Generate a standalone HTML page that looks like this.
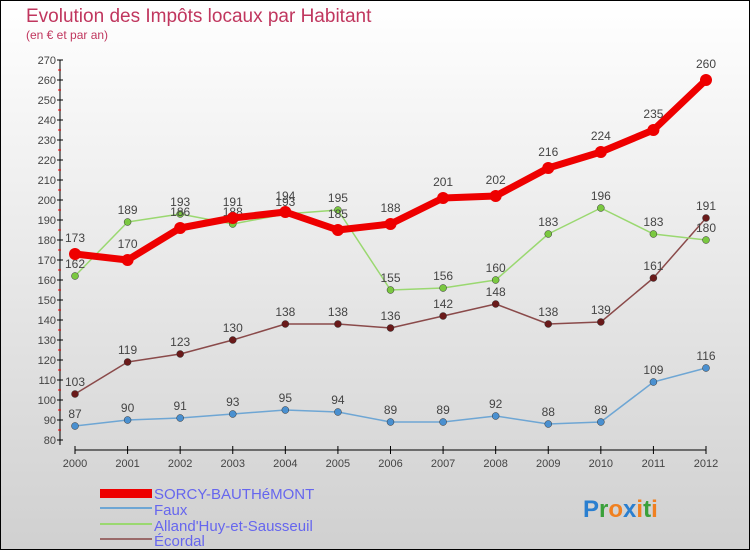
<!DOCTYPE html>
<html><head><meta charset="utf-8"><style>
body{margin:0}
#c{width:750px;height:550px;position:relative;overflow:hidden;font-family:"Liberation Sans",sans-serif}
</style></head><body>
<div id="c">
<svg id="s" width="750" height="550" xmlns="http://www.w3.org/2000/svg">
<defs><linearGradient id="bg" x1="0" y1="0" x2="0" y2="1"><stop offset="0" stop-color="#ffffff"/><stop offset="1" stop-color="#d0d0d0"/></linearGradient></defs>
<rect x="0.5" y="0.5" width="749" height="549" fill="url(#bg)" stroke="#000"/>
<text x="26" y="22" font-size="19" fill="#c0365e">Evolution des Impôts locaux par Habitant</text>
<text x="26" y="39" font-size="12" fill="#c0365e">(en € et par an)</text>
<g id="axes"></g><g id="series"></g>
<g font-size="15" fill="#6666ee">
<rect x="100" y="489" width="52" height="9" fill="#e00"/>
<text x="154" y="499">SORCY-BAUTHéMONT</text>
<rect x="100" y="507" width="52" height="2" fill="#6ea6d4"/>
<text x="154" y="515">Faux</text>
<rect x="100" y="523" width="52" height="2" fill="#9ad870"/>
<text x="154" y="531">Alland'Huy-et-Sausseuil</text>
<rect x="100" y="538" width="52" height="2" fill="#9a6a6a"/>
<text x="154" y="546">Écordal</text>
</g>
<g font-size="24" font-weight="bold">
<text x="583" y="517"><tspan fill="#2a7fd0">P</tspan><tspan fill="#3aa03a">r</tspan><tspan fill="#f08020">o</tspan><tspan fill="#2a7fd0">x</tspan><tspan fill="#f08020">i</tspan><tspan fill="#3aa03a">t</tspan><tspan fill="#f08020">i</tspan></text>
</g>
</svg>
</div>
<script>
const years=[2000,2001,2002,2003,2004,2005,2006,2007,2008,2009,2010,2011,2012];
const sorcy=[173,170,186,191,194,185,188,201,202,216,224,235,260];
const faux=[87,90,91,93,95,94,89,89,92,88,89,109,116];
const alland=[162,189,193,188,193,195,155,156,160,183,196,183,180];
const ecordal=[103,119,123,130,138,138,136,142,148,138,139,161,191];
const yTicks=[80,90,100,110,120,130,140,150,160,170,180,190,200,210,220,230,240,250,260,270];
const NS="http://www.w3.org/2000/svg";
function X(i){return 75+i*(706-75)/(years.length-1);}
function Y(v){return 440-(v-80)*2;}
function mk(p,t,a){const e=document.createElementNS(NS,t);for(const k in a)e.setAttribute(k,a[k]);p.appendChild(e);return e;}
const ax=document.getElementById('axes');
let l=mk(ax,'line',{x1:60,y1:Y(270),x2:60,y2:Y(80)+5,stroke:'#000'});


l=mk(ax,'line',{x1:75,y1:450,x2:706,y2:450,stroke:'#000'});


yTicks.forEach(v=>{
 mk(ax,'line',{x1:57,y1:Y(v),x2:63,y2:Y(v),stroke:'#000'});
 if(v<270)mk(ax,'line',{x1:58,y1:Y(v+5),x2:61,y2:Y(v+5),stroke:'#e00'});
 const t=mk(ax,'text',{x:56,y:Y(v)+4,'font-size':11,fill:'#444','text-anchor':'end'});t.textContent=v;
 
 
});
years.forEach((yr,i)=>{
 mk(ax,'line',{x1:X(i),y1:446,x2:X(i),y2:454,stroke:'#000'});
 const t=mk(ax,'text',{x:X(i),y:467,'font-size':11,fill:'#444','text-anchor':'middle'});t.textContent=yr;
 
 
});
const sg=document.getElementById('series');
function series(name,data,col,w,r,mcol,lblOff){
 const g=mk(sg,'g',{});
 
 
 mk(g,'polyline',{points:data.map((v,i)=>X(i)+','+Y(v)).join(' '),fill:'none',stroke:col,'stroke-width':w,'stroke-linejoin':'round'});
 data.forEach((v,i)=>{
  const c=mk(g,'circle',{cx:X(i),cy:Y(v),r:r,fill:mcol,stroke:w>3?'none':'#333','stroke-width':0.5});
  
  
  const t=mk(g,'text',{x:X(i),y:Y(v)+lblOff,'font-size':12,fill:'#444','text-anchor':'middle'});t.textContent=v;
  
  
 });
}
series('faux',faux,'#6ea6d4',1.5,3.5,'#4a90d0',-8);
series('ecordal',ecordal,'#8a4a4a',1.5,3.5,'#6a1a1a',-8);
series('alland',alland,'#9ad870',1.5,3.5,'#7ac840',-8);
series('sorcy',sorcy,'#e00',7,6,'#e00',-12);
</script>
</body></html>
